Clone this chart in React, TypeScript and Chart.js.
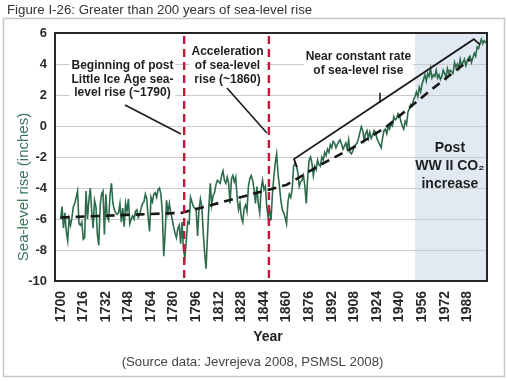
import React, { useEffect, useRef } from 'react';
import { Chart, registerables } from 'chart.js';

Chart.register(...registerables);

// ---------- DATA ----------
const START_YEAR = 1700;
// Sea-level rise (inches), annual, 1700 onward
const seaLevel = [
  -6.0, -5.2, -6.6, -5.6, -6.8, -7.4, -6.0, -6.4, -5.9, -5.2,
  -5.0, -4.6, -4.2, -6.3, -6.4, -6.2, -7.3, -7.2, -4.2, -6.0,
  -4.8, -4.0, -5.5, -6.6, -4.8, -5.2, -7.0, -7.7, -5.1, -4.4,
  -4.2, -7.0, -4.4, -5.9, -6.1, -4.4, -3.7, -5.0, -5.4, -5.6,
  -5.7, -5.6, -5.0, -6.2, -5.3, -6.5, -5.0, -5.5, -4.7, -6.3,
  -6.0, -5.8, -6.0, -5.5, -5.4, -5.9, -5.7, -5.3, -5.0, -4.9,
  -4.4, -4.7, -5.9, -6.8, -4.6, -4.9, -4.4, -4.3, -4.6, -4.1,
  -4.0, -4.4, -5.5, -8.4, -7.0, -4.8, -5.6, -5.0, -5.6, -6.0,
  -6.5, -6.9, -7.2, -6.6, -6.4, -7.6, -6.2, -8.0, -8.5, -7.4,
  -6.2, -6.3, -4.6, -4.9, -5.2, -5.3, -5.4, -7.1, -5.4, -4.7,
  -5.2, -6.9, -8.2, -9.2, -7.1, -5.2, -3.7, -5.1, -4.5, -4.3,
  -3.8, -3.5, -3.6, -3.7, -3.2, -2.9, -3.5, -3.7, -3.3, -3.7,
  -5.0, -3.4, -3.2, -3.6, -3.3, -4.6, -5.4, -5.0, -5.9, -6.2,
  -5.3, -5.1, -5.5, -3.9, -3.4, -3.2, -3.5, -4.1, -5.0, -3.9,
  -5.0, -5.6, -4.1, -3.5, -4.1, -3.9, -5.2, -5.9, -5.4, -6.1,
  -4.4, -3.3, -2.4, -1.8, -3.1, -3.9, -4.8, -5.4, -5.6, -5.9,
  -6.3, -4.9, -4.4, -4.6, -4.1, -2.6, -2.4, -2.6, -3.0, -3.9,
  -3.6, -3.5, -3.2, -3.9, -5.0, -3.3, -2.2, -2.0, -2.4, -3.2,
  -2.6, -2.8, -2.2, -2.5, -2.6, -2.0, -2.2, -1.7, -1.9, -1.5,
  -1.7, -1.2, -1.4, -1.0, -1.1, -1.4, -1.2, -1.0, -0.9, -1.2,
  -1.5, -1.3, -1.1, -1.5, -0.9, -1.7, -1.8, -1.6, -1.3, -1.2,
  -1.1, -0.8, -0.4, -0.05, -0.3, -0.9, -0.5, -0.3, -0.8, -0.4,
  -0.8, -0.6, -0.3, -0.4, -0.8, -1.0, -1.2, -1.4, -0.8, -0.3,
  -0.2, -0.5, 0.0, -0.2, 0.1, 0.0, 0.6, 0.4, 0.5, 0.8,
  0.7, 0.3, 0.0, -0.2, 0.3, 0.1, 0.9, 1.1, 1.4, 1.3,
  1.7, 1.9, 2.2, 1.9, 2.5, 2.2, 2.7, 3.0, 3.3, 2.9,
  3.4, 3.2, 3.7, 3.1, 3.3, 3.2, 3.6, 3.1, 3.3, 3.0,
  3.2, 3.6, 3.4, 3.1, 3.7, 3.4, 3.6, 3.5, 3.4, 4.1,
  3.8, 4.0, 3.7, 4.3, 3.9, 4.1, 4.3, 3.9, 4.2, 4.4,
  4.5, 4.1, 4.4, 4.7, 4.5, 5.1, 5.0, 5.3, 5.6, 5.3,
  5.5, 5.4, 5.3,
];
const years = seaLevel.map((_, i) => START_YEAR + i);

const tickYears = [1700, 1716, 1732, 1748, 1764, 1780, 1796, 1812, 1828, 1844, 1860, 1876, 1892, 1908, 1924, 1940, 1956, 1972, 1988];
const yMin = -10;
const yMax = 6;
const yStep = 2;
const xMin = 1696;
const xMax = 2002;

// dashed trend line
const trendYears = [1700, 1786, 1860, 1885, 1909, 1930, 1962, 1990];
const trendValues = [-5.9, -5.6, -3.8, -2.45, -1.3, -0.1, 2.3, 4.3];

// "near constant rate" bracket line
const bracketYears = [1867.4, 1865.3, 1992.7, 1997];
const bracketValues = [-2.65, -2.13, 5.6, 5.25];
const bracketTickYears = [1926.2, 1926.2];
const bracketTickValues = [1.5, 2.15];

// pointer lines
const pointer1Years = [1745.6, 1785.2];
const pointer1Values = [1.35, -0.52];
const pointer2Years = [1817.8, 1846.1];
const pointer2Values = [2.45, -0.45];

// red dashed markers and shaded period
const markerYears = [1787.5, 1847.5];
const shadeStartYear = 1951;

const titleText = 'Figure I-26: Greater than 200 years of sea-level rise';
const yTitle = 'Sea-level rise (inches)';
const xTitle = 'Year';
const sourceText = '(Source data: Jevrejeva 2008, PSMSL 2008)';

const notes = [
  { lines: ['Beginning of post', 'Little Ice Age sea-', 'level rise (~1790)'], year: 1743.8, value: 3.87, lh: 13.5, size: 12, box: true },
  { lines: ['Acceleration', 'of sea-level', 'rise (~1860)'], year: 1818.2, value: 4.79, lh: 13.8, size: 12, box: true },
  { lines: ['Near constant rate', 'of sea-level rise'], year: 1910.9, value: 4.48, lh: 14, size: 12, box: true },
  { lines: ['Post', 'WW II CO\u2082', 'increase'], year: 1975.7, value: -1.42, lh: 18, size: 14, box: false },
];

const FONT = '"Liberation Sans", Arial, Helvetica, sans-serif';

const drawPath = (ctx: CanvasRenderingContext2D, xs: any, ys: any, px: number[], py: number[]) => {
  ctx.beginPath();
  px.forEach((v, i) => {
    const X = xs.getPixelForValue(v);
    const Y = ys.getPixelForValue(py[i]);
    if (i === 0) ctx.moveTo(X, Y);
    else ctx.lineTo(X, Y);
  });
  ctx.stroke();
};

const decorPlugin = {
  id: 'decor',
  beforeDraw(chart: any) {
    const { ctx, chartArea, scales } = chart;
    const { top, bottom, right } = chartArea;
    ctx.save();
    ctx.fillStyle = '#ffffff';
    ctx.fillRect(0, 0, chart.width, chart.height);
    // outer frame
    ctx.strokeStyle = '#c6c6c6';
    ctx.lineWidth = 1.5;
    ctx.strokeRect(3.5, 18.5, 501, 358);
    // title
    ctx.fillStyle = '#333333';
    ctx.font = `13.3px ${FONT}`;
    ctx.textBaseline = 'middle';
    ctx.textAlign = 'left';
    ctx.fillText(titleText, 7, 10);
    // shaded period
    const xs = scales.x.getPixelForValue(shadeStartYear);
    ctx.fillStyle = '#e1eaf2';
    ctx.fillRect(xs, top, right - xs, bottom - top);
    ctx.restore();
  },
  afterDatasetsDraw(chart: any) {
    const { ctx, chartArea, scales } = chart;
    const { left, top, bottom, right } = chartArea;
    const xs = scales.x;
    const ys = scales.y;
    ctx.save();
    // red dashed markers
    ctx.strokeStyle = '#c8163a';
    ctx.lineWidth = 2.4;
    ctx.setLineDash([8, 5]);
    markerYears.forEach((yr) => {
      const X = xs.getPixelForValue(yr);
      ctx.beginPath();
      ctx.moveTo(X, top + 3);
      ctx.lineTo(X, bottom);
      ctx.stroke();
    });
    ctx.setLineDash([]);
    // pointer lines
    ctx.strokeStyle = '#1a1a1a';
    ctx.lineWidth = 1.6;
    drawPath(ctx, xs, ys, pointer1Years, pointer1Values);
    drawPath(ctx, xs, ys, pointer2Years, pointer2Values);
    drawPath(ctx, xs, ys, bracketTickYears, bracketTickValues);
    // notes
    notes.forEach((n) => {
      ctx.font = `bold ${n.size}px ${FONT}`;
      const cx = xs.getPixelForValue(n.year);
      const cy = ys.getPixelForValue(n.value);
      if (n.box) {
        const w = Math.max(...n.lines.map((l) => ctx.measureText(l).width));
        ctx.fillStyle = '#ffffff';
        ctx.fillRect(cx - w / 2 - 2, cy - n.lh / 2, w + 4, n.lh * n.lines.length);
      }
      ctx.fillStyle = '#1e1e1e';
      ctx.textAlign = 'center';
      ctx.textBaseline = 'middle';
      n.lines.forEach((l, i) => ctx.fillText(l, cx, cy + i * n.lh));
    });
    // plot frame
    ctx.strokeStyle = '#262626';
    ctx.lineWidth = 2;
    ctx.strokeRect(left, top, right - left, bottom - top);
    ctx.restore();
  },
  afterDraw(chart: any) {
    const { ctx } = chart;
    ctx.save();
    // y title
    ctx.translate(24, 187);
    ctx.rotate(-Math.PI / 2);
    ctx.fillStyle = '#3b7758';
    ctx.font = `15px ${FONT}`;
    ctx.textAlign = 'center';
    ctx.textBaseline = 'middle';
    ctx.fillText(yTitle, 0, 0);
    ctx.restore();
    ctx.save();
    ctx.fillStyle = '#222222';
    ctx.font = `bold 14px ${FONT}`;
    ctx.textAlign = 'center';
    ctx.textBaseline = 'middle';
    ctx.fillText(xTitle, 268, 337);
    ctx.fillStyle = '#444444';
    ctx.font = `13.2px ${FONT}`;
    ctx.fillText(sourceText, 252.5, 362);
    ctx.restore();
  },
};

export default function App() {
  const ref = useRef<HTMLCanvasElement | null>(null);
  useEffect(() => {
    if (!ref.current) return;
    const chart = new Chart(ref.current, {
      type: 'line',
      data: {
        datasets: [
          {
            label: 'trend',
            data: trendYears.map((x, i) => ({ x, y: trendValues[i] })),
            borderColor: '#161616',
            borderWidth: 2.6,
            borderDash: [9, 6],
            pointRadius: 0,
            tension: 0,
            fill: false,
          },
          {
            label: 'bracket',
            data: bracketYears.map((x, i) => ({ x, y: bracketValues[i] })),
            borderColor: '#1a1a1a',
            borderWidth: 1.8,
            pointRadius: 0,
            tension: 0,
            fill: false,
          },
          {
            label: 'Sea-level rise',
            data: years.map((x, i) => ({ x, y: seaLevel[i] })),
            borderColor: '#2c6b4b',
            borderWidth: 1.6,
            pointRadius: 0,
            tension: 0,
            fill: false,
          },
        ],
      },
      options: {
        responsive: false,
        animation: false,
        events: [],
        layout: { padding: { left: 0, right: 20, top: 33, bottom: 0 } },
        plugins: {
          legend: { display: false },
          tooltip: { enabled: false },
        },
        scales: {
          x: {
            type: 'linear',
            min: xMin,
            max: xMax,
            afterBuildTicks: (axis: any) => {
              axis.ticks = tickYears.map((value) => ({ value }));
            },
            afterFit: (scale: any) => {
              scale.height = 100;
            },
            ticks: {
              autoSkip: false,
              minRotation: 90,
              maxRotation: 90,
              padding: 10,
              color: '#2a2a2a',
              font: { family: FONT, size: 14, weight: 'bold' },
              callback: (v: any) => String(v),
            },
            grid: { display: false, drawTicks: false },
            border: { display: false },
          },
          y: {
            min: yMin,
            max: yMax,
            afterFit: (scale: any) => {
              scale.width = 55;
            },
            ticks: {
              stepSize: yStep,
              padding: 8,
              color: '#2a2a2a',
              font: { family: FONT, size: 13, weight: 'bold' },
            },
            grid: { color: '#cacaca', lineWidth: 1, drawTicks: false },
            border: { display: false },
          },
        },
      },
      plugins: [decorPlugin],
    });
    return () => chart.destroy();
  }, []);
  return (
    <div style={{ position: 'absolute', left: 0, top: 0, width: 507, height: 381, background: '#fff' }}>
      <canvas ref={ref} width={507} height={381} style={{ display: 'block' }} />
    </div>
  );
}
